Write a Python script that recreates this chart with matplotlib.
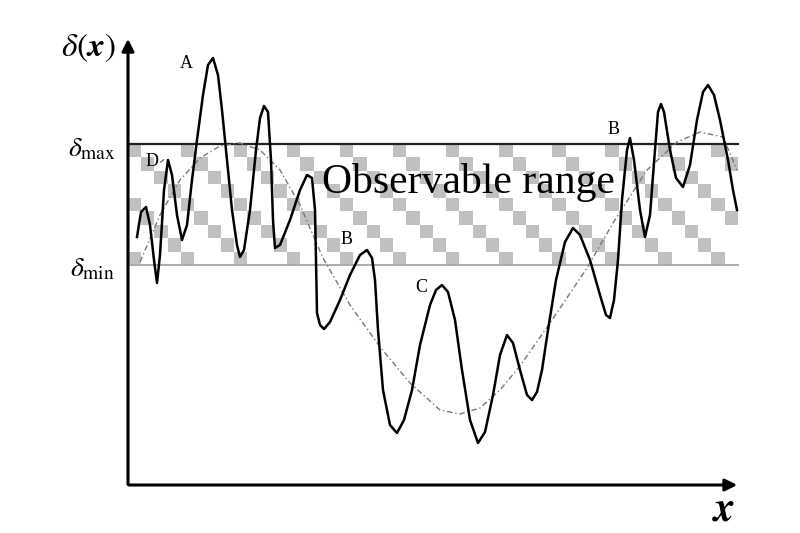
import numpy as np
import matplotlib.pyplot as plt
from matplotlib.colors import ListedColormap

plt.rcParams['font.family'] = ['Liberation Serif', 'DejaVu Serif']
plt.rcParams['mathtext.fontset'] = 'stix'

# schematic drawn in pixel-like units (x right, y down)
curve_x = [137, 141, 146, 150, 154, 157, 160, 164, 168, 172, 177, 182, 187, 192,
           197, 203, 208, 213, 218, 222, 226, 232, 237, 240, 244, 250, 256, 260,
           264, 268, 271, 273, 275, 280, 290, 300, 307, 312, 315, 316, 317, 320,
           324, 330, 340, 350, 360, 367, 372, 375, 378, 383, 390, 397, 404, 412,
           420, 430, 436, 442, 448, 455, 462, 470, 478, 485, 493, 500, 507, 513,
           520, 527, 532, 537, 542, 548, 556, 565, 573, 580, 590, 600, 606, 610,
           614, 618, 622, 627, 630, 634, 640, 645, 650, 655, 658, 661, 664, 670,
           676, 683, 690, 697, 703, 708, 714, 720, 728, 733, 737]
curve_y = [237, 212, 207, 225, 260, 283, 255, 190, 160, 175, 215, 240, 225, 180,
           140, 95, 65, 58, 75, 110, 150, 210, 245, 257, 250, 210, 150, 118,
           106, 112, 160, 220, 248, 245, 220, 190, 175, 178, 210, 260, 313, 325,
           329, 322, 300, 275, 255, 250, 258, 280, 330, 390, 425, 433, 420, 390,
           345, 305, 290, 285, 292, 320, 370, 420, 443, 432, 395, 355, 335, 343,
           370, 395, 400, 392, 370, 330, 280, 242, 228, 235, 260, 295, 315, 318,
           300, 260, 200, 150, 138, 160, 210, 237, 215, 150, 112, 104, 112, 150,
           178, 187, 165, 120, 92, 85, 95, 120, 160, 190, 210]

trend_x = [140, 160, 180, 200, 220, 240, 260, 280, 300, 323, 350, 380, 410, 440,
           460, 480, 500, 520, 550, 587, 613, 647, 677, 700, 723, 737]
trend_y = [262, 215, 180, 158, 146, 143, 150, 170, 205, 258, 305, 347, 383, 410,
           414, 408, 390, 366, 323, 268, 223, 170, 142, 132, 137, 170]

delta_max = 144
delta_min = 265
band_x = (128, 738)

labels = ['A', 'D', 'B', 'C', 'B']
label_x = [186, 152, 347, 421, 614]
label_y = [64, 162, 240, 287, 130]

fig = plt.figure(figsize=(8, 5.33), dpi=100)
ax = fig.add_axes([0, 0, 1, 1])
ax.set_xlim(0, 800)
ax.set_ylim(533, 0)
ax.axis('off')

# checkered band
rows, cols = 9, 46
r, c = np.indices((rows, cols))
pattern = ((c - r) % 4 == 0).astype(int)
ax.imshow(pattern, cmap=ListedColormap(['white', '#c0c0c0']),
          extent=(band_x[0], band_x[1], delta_min, delta_max),
          origin='upper', interpolation='nearest', aspect='auto', zorder=1)

ax.plot(band_x, [delta_max, delta_max], color='#222222', lw=1.6, zorder=2)
ax.plot(band_x, [delta_min, delta_min], color='#aaaaaa', lw=1.4, zorder=2)

ax.plot(trend_x, trend_y, color='#777777', lw=1.0, ls=(0, (4, 2, 1, 2)), zorder=3)
ax.plot(curve_x, curve_y, color='black', lw=1.8, zorder=4)

# axes with arrows
ax.annotate('', xy=(128, 36), xytext=(128, 487),
            arrowprops=dict(arrowstyle='-|>', lw=2.2, color='black', mutation_scale=18))
ax.annotate('', xy=(740, 485), xytext=(126, 485),
            arrowprops=dict(arrowstyle='-|>', lw=2.2, color='black', mutation_scale=18))

ax.text(468, 183, 'Observable range', fontsize=30, ha='center', va='center', zorder=5)
for s, lx, ly in zip(labels, label_x, label_y):
    ax.text(lx, ly, s, fontsize=13, ha='center', va='center', zorder=5)
ax.annotate('', xy=(166, 158), xytext=(158, 164),
            arrowprops=dict(arrowstyle='-', lw=0.8, color='#555555'))

ax.text(88, 48, r'$\delta(\boldsymbol{x})$', fontsize=24, ha='center', va='center')
ax.text(92, 150, r'$\delta_{\max}$', fontsize=20, ha='center', va='center')
ax.text(92, 270, r'$\delta_{\min}$', fontsize=20, ha='center', va='center')
ax.text(724, 510, r'$\boldsymbol{x}$', fontsize=30, ha='center', va='center')

fig.savefig('out.png', dpi=100)
